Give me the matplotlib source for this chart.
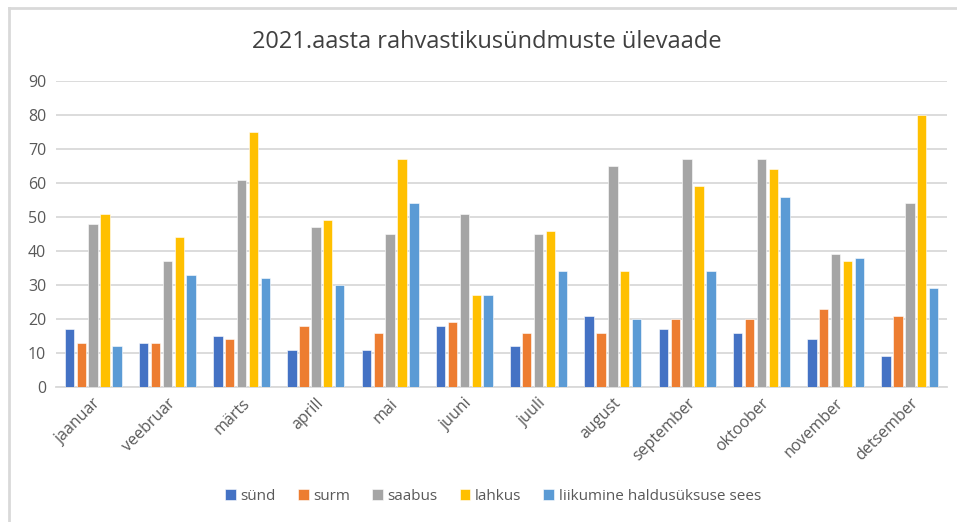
import matplotlib
matplotlib.use("Agg")
import matplotlib.pyplot as plt
from matplotlib.lines import Line2D
import numpy as np

months = ["jaanuar", "veebruar", "märts", "aprill", "mai", "juuni", "juuli",
          "august", "september", "oktoober", "november", "detsember"]
series_names = ["sünd", "surm", "saabus", "lahkus", "liikumine haldusüksuse sees"]
synd = [17, 13, 15, 11, 11, 18, 12, 21, 17, 16, 14, 9]
surm = [13, 13, 14, 18, 16, 19, 16, 16, 20, 20, 23, 21]
saabus = [48, 37, 61, 47, 45, 51, 45, 65, 67, 67, 39, 54]
lahkus = [51, 44, 75, 49, 67, 27, 46, 34, 59, 64, 37, 80]
liikumine = [12, 33, 32, 30, 54, 27, 34, 20, 34, 56, 38, 29]
yticks = [0, 10, 20, 30, 40, 50, 60, 70, 80, 90]
colors = ["#4472C4", "#ED7D31", "#A5A5A5", "#FFC000", "#5B9BD5"]

plt.rcParams['font.family'] = ['Open Sans', 'DejaVu Sans']

fig = plt.figure(figsize=(9.57, 5.22), dpi=100)
ax = fig.add_axes([56/957, 1-387/522, (947-56)/957, (387-81)/522])

data = [synd, surm, saabus, lahkus, liikumine]
x = np.arange(len(months))
step = 0.16
width = 0.125
for i, (vals, c, name) in enumerate(zip(data, colors, series_names)):
    ax.bar(x + (i - 2) * step, vals, width=width, color=c, label=name,
           edgecolor='white', linewidth=0.4, zorder=3)

ax.set_xlim(-0.5, len(months) - 0.5)
ax.set_ylim(0, 90)
ax.set_yticks(yticks)
ax.yaxis.grid(True, color='#D9D9D9', linewidth=1.3, zorder=0)
ax.set_axisbelow(True)
for s in ['top', 'right', 'left']:
    ax.spines[s].set_visible(False)
ax.spines['bottom'].set_color('#D9D9D9')
ax.spines['bottom'].set_linewidth(1.3)
ax.tick_params(axis='both', length=0, labelsize=11.5, labelcolor='#595959')
ax.tick_params(axis='y', pad=7)
ax.set_xticks(x)
ax.set_xticklabels(months, rotation=45, ha='right', rotation_mode='anchor')
ax.tick_params(axis='x', pad=6)

fig.text(487/957, 1-42/522, "2021.aasta rahvastikusündmuste ülevaade", ha='center', va='center',
         fontsize=17, color='#404040')

leg = fig.legend(loc='center', bbox_to_anchor=(493/957, 1-496/522), ncol=5, frameon=False,
                 fontsize=11, handlelength=0.7, handleheight=0.7, handletextpad=0.3,
                 columnspacing=1.45, labelcolor='#595959')

# screenshot border lines (top and left)
fig.add_artist(Line2D([9/957, 1], [1-8/522, 1-8/522], transform=fig.transFigure, color='#D9D9D9', lw=2))
fig.add_artist(Line2D([9/957, 9/957], [0, 1-8/522], transform=fig.transFigure, color='#D9D9D9', lw=2))

fig.savefig("out.png", dpi=100)
